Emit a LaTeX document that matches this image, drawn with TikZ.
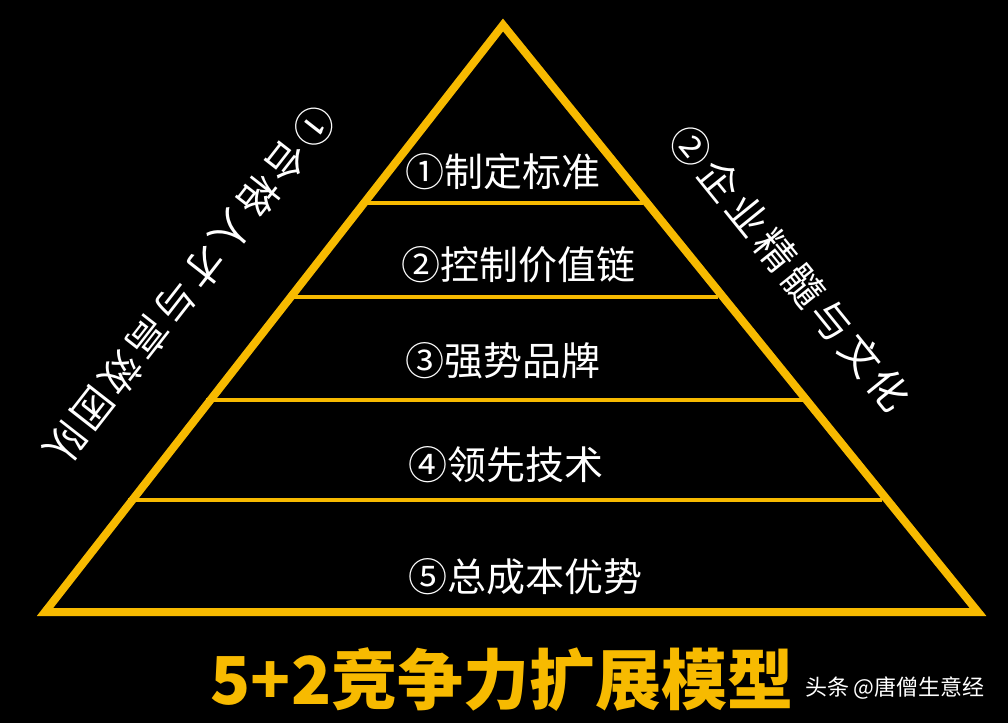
\documentclass[tikz,border=0pt]{standalone}
\usepackage{fontspec}
\newfontfamily\cjk{Noto Sans CJK SC}
\newfontfamily\cjksp[LetterSpace=12]{Noto Sans CJK SC}
\newfontfamily\cjkb{Noto Sans CJK SC Black}
\definecolor{gold}{HTML}{F7BA00}
\tikzset{
  edge/.style={draw=gold,line width=8pt,line join=miter},
  band/.style={draw=gold,line width=4.5pt},
  lvl/.style={text=white,font=\cjk\fontsize{39}{39}\selectfont,inner sep=0pt},
  side/.style={text=white,font=\cjksp\fontsize{40}{40}\selectfont,inner sep=0pt}
}
\begin{document}
\begin{tikzpicture}[x=1pt,y=1pt]
\fill[black] (0,0) rectangle (1008,723);
\useasboundingbox (0,0) rectangle (1008,723);
\coordinate (top) at (503,698);
\coordinate (bl) at (45,111);
\coordinate (br) at (978,111);
\draw[edge] (top) -- (bl) -- (br) -- cycle;
\coordinate (l1) at (364,520); \coordinate (r1) at (643,520);
\coordinate (l2) at (290,426); \coordinate (r2) at (718,426);
\coordinate (l3) at (206,323); \coordinate (r3) at (806,323);
\coordinate (l4) at (128,223); \coordinate (r4) at (882,223);
\draw[band] (l1) -- (r1);
\draw[band] (l2) -- (r2);
\draw[band] (l3) -- (r3);
\draw[band] (l4) -- (r4);
\node[lvl] (t1) at (503,551) {①制定标准};
\node[lvl] (t2) at (518,458) {②控制价值链};
\node[lvl] (t3) at (503,362) {③强势品牌};
\node[lvl] (t4) at (506,258) {④领先技术};
\node[lvl] (t5) at (525,146) {⑤总成本优势};
\node[side,rotate=-128] (sl) at (190,438) {①合格人才与高效团队};
\node[side,rotate=-51] (sr) at (790,455) {②企业精髓与文化};
\node[text=gold,font=\cjkb\fontsize{66}{66}\selectfont,inner sep=0pt] (title) at (502,43) {5+2竞争力扩展模型};
\node[text=white,font=\cjk\fontsize{22}{22}\selectfont,inner sep=0pt,anchor=east] (wm) at (985,35) {头条 @唐僧生意经};
\end{tikzpicture}
\end{document}
